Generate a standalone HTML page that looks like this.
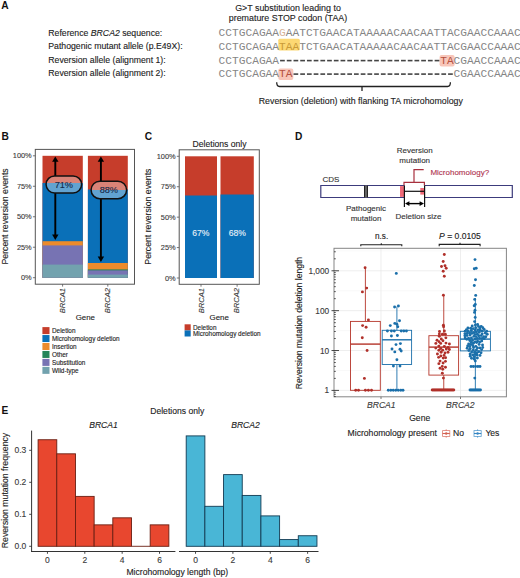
<!DOCTYPE html>
<html><head><meta charset="utf-8"><title>Figure</title>
<style>html,body{margin:0;padding:0;background:#fff;}body{width:520px;height:578px;overflow:hidden;font-family:"Liberation Sans", sans-serif;}svg{display:block;}</style>
</head><body>
<svg width="520" height="578" viewBox="0 0 520 578"><text x="1.30" y="8.75" font-size="10.2" text-anchor="start" fill="#111" font-weight="bold" font-family='"Liberation Sans", sans-serif'>A</text>
<text x="1.60" y="140.25" font-size="10.2" text-anchor="start" fill="#111" font-weight="bold" font-family='"Liberation Sans", sans-serif'>B</text>
<text x="144.80" y="140.25" font-size="10.2" text-anchor="start" fill="#111" font-weight="bold" font-family='"Liberation Sans", sans-serif'>C</text>
<text x="295.00" y="140.05" font-size="10.2" text-anchor="start" fill="#111" font-weight="bold" font-family='"Liberation Sans", sans-serif'>D</text>
<text x="1.40" y="413.85" font-size="10.2" text-anchor="start" fill="#111" font-weight="bold" font-family='"Liberation Sans", sans-serif'>E</text>
<text x="48.30" y="36.01" font-size="8.7" text-anchor="start" fill="#222" stroke="#222" stroke-width="0.12" font-family='"Liberation Sans", sans-serif'>Reference <tspan font-style="italic">BRCA2</tspan> sequence:</text>
<text x="48.30" y="49.31" font-size="8.7" text-anchor="start" fill="#222" stroke="#222" stroke-width="0.12" font-family='"Liberation Sans", sans-serif'>Pathogenic mutant allele (p.E49X):</text>
<text x="48.30" y="62.81" font-size="8.7" text-anchor="start" fill="#222" stroke="#222" stroke-width="0.12" font-family='"Liberation Sans", sans-serif'>Reversion allele (alignment 1):</text>
<text x="48.30" y="76.11" font-size="8.7" text-anchor="start" fill="#222" stroke="#222" stroke-width="0.12" font-family='"Liberation Sans", sans-serif'>Reversion allele (alignment 2):</text>
<text x="288.00" y="10.50" font-size="8.9" text-anchor="middle" fill="#222" stroke="#222" stroke-width="0.12" font-family='"Liberation Sans", sans-serif'>G&gt;T substitution leading to</text>
<text x="288.00" y="20.80" font-size="8.9" text-anchor="middle" fill="#222" stroke="#222" stroke-width="0.12" font-family='"Liberation Sans", sans-serif'>premature STOP codon (TAA)</text>
<rect x="278.28" y="38.80" width="21.56" height="11.80" fill="#fcd873" rx="1.5"/>
<rect x="439.56" y="54.90" width="15.04" height="11.70" fill="#f8c6b9" rx="2"/>
<rect x="278.28" y="68.60" width="15.04" height="11.50" fill="#f8c6b9" rx="2"/>
<text x="218.60" y="36.26" font-size="11.2" font-family='"Liberation Mono", monospace' xml:space="preserve"><tspan fill="#858585">CCTGCAGAA</tspan><tspan fill="#d6b296">G</tspan><tspan fill="#858585">AATCTGAACATAAAAACAACAATTACGAACCAAAC</tspan></text>
<text x="218.60" y="49.66" font-size="11.2" font-family='"Liberation Mono", monospace' xml:space="preserve"><tspan fill="#858585">CCTGCAGAA</tspan><tspan fill="#c99a38">TAA</tspan><tspan fill="#858585">TCTGAACATAAAAACAACAATTACGAACCAAAC</tspan></text>
<text x="218.60" y="63.66" font-size="11.2" font-family='"Liberation Mono", monospace' xml:space="preserve"><tspan fill="#858585">CCTGCAGAA</tspan><tspan fill="#858585">                        </tspan><tspan fill="#b5503f">TA</tspan><tspan fill="#858585">CGAACCAAAC</tspan></text>
<rect x="280.08" y="59.80" width="4.72" height="1.60" fill="#444"/>
<rect x="286.80" y="59.80" width="4.72" height="1.60" fill="#444"/>
<rect x="293.52" y="59.80" width="4.72" height="1.60" fill="#444"/>
<rect x="300.24" y="59.80" width="4.72" height="1.60" fill="#444"/>
<rect x="306.96" y="59.80" width="4.72" height="1.60" fill="#444"/>
<rect x="313.68" y="59.80" width="4.72" height="1.60" fill="#444"/>
<rect x="320.40" y="59.80" width="4.72" height="1.60" fill="#444"/>
<rect x="327.12" y="59.80" width="4.72" height="1.60" fill="#444"/>
<rect x="333.84" y="59.80" width="4.72" height="1.60" fill="#444"/>
<rect x="340.56" y="59.80" width="4.72" height="1.60" fill="#444"/>
<rect x="347.28" y="59.80" width="4.72" height="1.60" fill="#444"/>
<rect x="354.00" y="59.80" width="4.72" height="1.60" fill="#444"/>
<rect x="360.72" y="59.80" width="4.72" height="1.60" fill="#444"/>
<rect x="367.44" y="59.80" width="4.72" height="1.60" fill="#444"/>
<rect x="374.16" y="59.80" width="4.72" height="1.60" fill="#444"/>
<rect x="380.88" y="59.80" width="4.72" height="1.60" fill="#444"/>
<rect x="387.60" y="59.80" width="4.72" height="1.60" fill="#444"/>
<rect x="394.32" y="59.80" width="4.72" height="1.60" fill="#444"/>
<rect x="401.04" y="59.80" width="4.72" height="1.60" fill="#444"/>
<rect x="407.76" y="59.80" width="4.72" height="1.60" fill="#444"/>
<rect x="414.48" y="59.80" width="4.72" height="1.60" fill="#444"/>
<rect x="421.20" y="59.80" width="4.72" height="1.60" fill="#444"/>
<rect x="427.92" y="59.80" width="4.72" height="1.60" fill="#444"/>
<rect x="434.64" y="59.80" width="4.72" height="1.60" fill="#444"/>
<text x="218.60" y="76.86" font-size="11.2" font-family='"Liberation Mono", monospace' xml:space="preserve"><tspan fill="#858585">CCTGCAGAA</tspan><tspan fill="#b5503f">TA</tspan><tspan fill="#858585">                        </tspan><tspan fill="#858585">CGAACCAAAC</tspan></text>
<rect x="293.52" y="73.30" width="4.72" height="1.60" fill="#444"/>
<rect x="300.24" y="73.30" width="4.72" height="1.60" fill="#444"/>
<rect x="306.96" y="73.30" width="4.72" height="1.60" fill="#444"/>
<rect x="313.68" y="73.30" width="4.72" height="1.60" fill="#444"/>
<rect x="320.40" y="73.30" width="4.72" height="1.60" fill="#444"/>
<rect x="327.12" y="73.30" width="4.72" height="1.60" fill="#444"/>
<rect x="333.84" y="73.30" width="4.72" height="1.60" fill="#444"/>
<rect x="340.56" y="73.30" width="4.72" height="1.60" fill="#444"/>
<rect x="347.28" y="73.30" width="4.72" height="1.60" fill="#444"/>
<rect x="354.00" y="73.30" width="4.72" height="1.60" fill="#444"/>
<rect x="360.72" y="73.30" width="4.72" height="1.60" fill="#444"/>
<rect x="367.44" y="73.30" width="4.72" height="1.60" fill="#444"/>
<rect x="374.16" y="73.30" width="4.72" height="1.60" fill="#444"/>
<rect x="380.88" y="73.30" width="4.72" height="1.60" fill="#444"/>
<rect x="387.60" y="73.30" width="4.72" height="1.60" fill="#444"/>
<rect x="394.32" y="73.30" width="4.72" height="1.60" fill="#444"/>
<rect x="401.04" y="73.30" width="4.72" height="1.60" fill="#444"/>
<rect x="407.76" y="73.30" width="4.72" height="1.60" fill="#444"/>
<rect x="414.48" y="73.30" width="4.72" height="1.60" fill="#444"/>
<rect x="421.20" y="73.30" width="4.72" height="1.60" fill="#444"/>
<rect x="427.92" y="73.30" width="4.72" height="1.60" fill="#444"/>
<rect x="434.64" y="73.30" width="4.72" height="1.60" fill="#444"/>
<rect x="441.36" y="73.30" width="4.72" height="1.60" fill="#444"/>
<rect x="448.08" y="73.30" width="4.72" height="1.60" fill="#444"/>
<path d="M276.7 82.3 Q276.7 86.5 279.5 86.5 L447.6 86.5 Q450.4 86.5 450.4 82.3 M362 86.5 L362 91" fill="none" stroke="#222" stroke-width="1.3"/>
<text x="360.80" y="104.00" font-size="8.8" text-anchor="middle" fill="#222" stroke="#222" stroke-width="0.12" font-family='"Liberation Sans", sans-serif'>Reversion (deletion) with flanking TA microhomology</text>
<rect x="35.30" y="149.40" width="99.20" height="134.80" fill="none" stroke="#555" stroke-width="1.0"/>
<line x1="32.90" y1="155.80" x2="35.30" y2="155.80" stroke="#555" stroke-width="0.8"/>
<text x="31.70" y="158.45" font-size="7.4" text-anchor="end" fill="#3a3a3a" stroke="#3a3a3a" stroke-width="0.12" font-family='"Liberation Sans", sans-serif'>100%</text>
<line x1="32.90" y1="186.28" x2="35.30" y2="186.28" stroke="#555" stroke-width="0.8"/>
<text x="31.70" y="188.92" font-size="7.4" text-anchor="end" fill="#3a3a3a" stroke="#3a3a3a" stroke-width="0.12" font-family='"Liberation Sans", sans-serif'>75%</text>
<line x1="32.90" y1="216.75" x2="35.30" y2="216.75" stroke="#555" stroke-width="0.8"/>
<text x="31.70" y="219.40" font-size="7.4" text-anchor="end" fill="#3a3a3a" stroke="#3a3a3a" stroke-width="0.12" font-family='"Liberation Sans", sans-serif'>50%</text>
<line x1="32.90" y1="247.22" x2="35.30" y2="247.22" stroke="#555" stroke-width="0.8"/>
<text x="31.70" y="249.87" font-size="7.4" text-anchor="end" fill="#3a3a3a" stroke="#3a3a3a" stroke-width="0.12" font-family='"Liberation Sans", sans-serif'>25%</text>
<line x1="32.90" y1="277.70" x2="35.30" y2="277.70" stroke="#555" stroke-width="0.8"/>
<text x="31.70" y="280.35" font-size="7.4" text-anchor="end" fill="#3a3a3a" stroke="#3a3a3a" stroke-width="0.12" font-family='"Liberation Sans", sans-serif'>0%</text>
<line x1="62.60" y1="284.20" x2="62.60" y2="286.60" stroke="#555" stroke-width="0.8"/>
<line x1="107.80" y1="284.20" x2="107.80" y2="286.60" stroke="#555" stroke-width="0.8"/>
<text x="7.70" y="216.40" font-size="8.7" text-anchor="middle" fill="#222" stroke="#222" stroke-width="0.12" transform="rotate(-90 7.7 216.4)" font-family='"Liberation Sans", sans-serif'>Percent reversion events</text>
<text x="62.80" y="288.00" font-size="7.6" text-anchor="end" fill="#3a3a3a" stroke="#3a3a3a" stroke-width="0.12" font-style="italic" transform="rotate(-90 62.8 288.0)" font-family='"Liberation Sans", sans-serif' dominant-baseline="central">BRCA1</text>
<text x="107.60" y="288.00" font-size="7.6" text-anchor="end" fill="#3a3a3a" stroke="#3a3a3a" stroke-width="0.12" font-style="italic" transform="rotate(-90 107.6 288.0)" font-family='"Liberation Sans", sans-serif' dominant-baseline="central">BRCA2</text>
<text x="85.30" y="319.53" font-size="7.9" text-anchor="middle" fill="#222" stroke="#222" stroke-width="0.12" font-family='"Liberation Sans", sans-serif'>Gene</text>
<rect x="42.50" y="155.80" width="40.30" height="121.90" fill="#c63d2b"/>
<rect x="42.50" y="183.00" width="40.30" height="94.70" fill="#0a70b8"/>
<rect x="42.50" y="241.20" width="40.30" height="36.50" fill="#ec8b2c"/>
<rect x="42.50" y="245.40" width="40.30" height="32.30" fill="#7773b3"/>
<rect x="42.50" y="264.60" width="40.30" height="13.10" fill="#72a2ae"/>
<rect x="87.90" y="155.80" width="39.90" height="121.90" fill="#c63d2b"/>
<rect x="87.90" y="189.50" width="39.90" height="88.20" fill="#0a70b8"/>
<rect x="87.90" y="263.00" width="39.90" height="14.70" fill="#ec8b2c"/>
<rect x="87.90" y="269.40" width="39.90" height="8.30" fill="#24855a"/>
<rect x="87.90" y="270.40" width="39.90" height="7.30" fill="#7773b3"/>
<rect x="87.90" y="274.60" width="39.90" height="3.10" fill="#72a2ae"/>
<line x1="55.30" y1="160.40" x2="55.30" y2="236.00" stroke="#000" stroke-width="1.9"/>
<path d="M52.10 161.80 L55.30 156.40 L58.50 161.80 Z" fill="#000"/>
<path d="M52.10 234.60 L55.30 240.00 L58.50 234.60 Z" fill="#000"/>
<line x1="100.90" y1="160.40" x2="100.90" y2="258.00" stroke="#000" stroke-width="1.9"/>
<path d="M97.70 161.80 L100.90 156.40 L104.10 161.80 Z" fill="#000"/>
<path d="M97.70 256.60 L100.90 262.00 L104.10 256.60 Z" fill="#000"/>
<defs><linearGradient id="g71" x1="0" y1="0" x2="0" y2="1"><stop offset="0.4176" stop-color="#c63d2b"/><stop offset="0.4176" stop-color="#0a70b8"/></linearGradient></defs>
<defs><linearGradient id="g88" x1="0" y1="0" x2="0" y2="1"><stop offset="0.4743" stop-color="#c63d2b"/><stop offset="0.4743" stop-color="#0a70b8"/></linearGradient></defs>
<rect x="46.10" y="175.90" width="35.50" height="17.00" rx="8.50" fill="url(#g71)" stroke="none"/>
<rect x="46.10" y="175.90" width="35.50" height="17.00" rx="8.50" fill="#ffffff" fill-opacity="0.36" stroke="#111" stroke-width="1.5"/>
<text x="63.85" y="187.62" font-size="9.2" text-anchor="middle" fill="#142848" stroke="#142848" stroke-width="0.12" font-family='"Liberation Sans", sans-serif'>71%</text>
<rect x="91.10" y="181.20" width="35.50" height="17.50" rx="8.75" fill="url(#g88)" stroke="none"/>
<rect x="91.10" y="181.20" width="35.50" height="17.50" rx="8.75" fill="#ffffff" fill-opacity="0.36" stroke="#111" stroke-width="1.5"/>
<text x="108.85" y="193.17" font-size="9.2" text-anchor="middle" fill="#142848" stroke="#142848" stroke-width="0.12" font-family='"Liberation Sans", sans-serif'>88%</text>
<rect x="42.40" y="327.10" width="7.10" height="7.00" fill="#c63d2b"/>
<text x="52.00" y="332.89" font-size="6.4" text-anchor="start" fill="#222" stroke="#222" stroke-width="0.12" font-family='"Liberation Sans", sans-serif'>Deletion</text>
<rect x="42.40" y="335.05" width="7.10" height="7.00" fill="#0a70b8"/>
<text x="52.00" y="340.84" font-size="6.4" text-anchor="start" fill="#222" stroke="#222" stroke-width="0.12" font-family='"Liberation Sans", sans-serif'>Microhomology deletion</text>
<rect x="42.40" y="343.00" width="7.10" height="7.00" fill="#ec8b2c"/>
<text x="52.00" y="348.79" font-size="6.4" text-anchor="start" fill="#222" stroke="#222" stroke-width="0.12" font-family='"Liberation Sans", sans-serif'>Insertion</text>
<rect x="42.40" y="350.95" width="7.10" height="7.00" fill="#24855a"/>
<text x="52.00" y="356.74" font-size="6.4" text-anchor="start" fill="#222" stroke="#222" stroke-width="0.12" font-family='"Liberation Sans", sans-serif'>Other</text>
<rect x="42.40" y="358.90" width="7.10" height="7.00" fill="#7773b3"/>
<text x="52.00" y="364.69" font-size="6.4" text-anchor="start" fill="#222" stroke="#222" stroke-width="0.12" font-family='"Liberation Sans", sans-serif'>Substitution</text>
<rect x="42.40" y="366.85" width="7.10" height="7.00" fill="#72a2ae"/>
<text x="52.00" y="372.64" font-size="6.4" text-anchor="start" fill="#222" stroke="#222" stroke-width="0.12" font-family='"Liberation Sans", sans-serif'>Wild-type</text>
<text x="219.60" y="147.38" font-size="8.6" text-anchor="middle" fill="#222" stroke="#222" stroke-width="0.12" font-family='"Liberation Sans", sans-serif'>Deletions only</text>
<rect x="179.20" y="149.80" width="80.10" height="134.50" fill="none" stroke="#555" stroke-width="1.0"/>
<line x1="176.80" y1="156.30" x2="179.20" y2="156.30" stroke="#555" stroke-width="0.8"/>
<text x="175.60" y="158.95" font-size="7.4" text-anchor="end" fill="#3a3a3a" stroke="#3a3a3a" stroke-width="0.12" font-family='"Liberation Sans", sans-serif'>100%</text>
<line x1="176.80" y1="186.72" x2="179.20" y2="186.72" stroke="#555" stroke-width="0.8"/>
<text x="175.60" y="189.37" font-size="7.4" text-anchor="end" fill="#3a3a3a" stroke="#3a3a3a" stroke-width="0.12" font-family='"Liberation Sans", sans-serif'>75%</text>
<line x1="176.80" y1="217.15" x2="179.20" y2="217.15" stroke="#555" stroke-width="0.8"/>
<text x="175.60" y="219.80" font-size="7.4" text-anchor="end" fill="#3a3a3a" stroke="#3a3a3a" stroke-width="0.12" font-family='"Liberation Sans", sans-serif'>50%</text>
<line x1="176.80" y1="247.57" x2="179.20" y2="247.57" stroke="#555" stroke-width="0.8"/>
<text x="175.60" y="250.22" font-size="7.4" text-anchor="end" fill="#3a3a3a" stroke="#3a3a3a" stroke-width="0.12" font-family='"Liberation Sans", sans-serif'>25%</text>
<line x1="176.80" y1="278.00" x2="179.20" y2="278.00" stroke="#555" stroke-width="0.8"/>
<text x="175.60" y="280.65" font-size="7.4" text-anchor="end" fill="#3a3a3a" stroke="#3a3a3a" stroke-width="0.12" font-family='"Liberation Sans", sans-serif'>0%</text>
<line x1="201.00" y1="284.30" x2="201.00" y2="286.70" stroke="#555" stroke-width="0.8"/>
<line x1="237.10" y1="284.30" x2="237.10" y2="286.70" stroke="#555" stroke-width="0.8"/>
<text x="151.20" y="216.60" font-size="8.7" text-anchor="middle" fill="#222" stroke="#222" stroke-width="0.12" transform="rotate(-90 151.2 216.6)" font-family='"Liberation Sans", sans-serif'>Percent reversion events</text>
<text x="201.20" y="288.00" font-size="7.6" text-anchor="end" fill="#3a3a3a" stroke="#3a3a3a" stroke-width="0.12" font-style="italic" transform="rotate(-90 201.2 288.0)" font-family='"Liberation Sans", sans-serif' dominant-baseline="central">BRCA1</text>
<text x="236.90" y="288.00" font-size="7.6" text-anchor="end" fill="#3a3a3a" stroke="#3a3a3a" stroke-width="0.12" font-style="italic" transform="rotate(-90 236.9 288.0)" font-family='"Liberation Sans", sans-serif' dominant-baseline="central">BRCA2</text>
<text x="219.20" y="319.53" font-size="7.9" text-anchor="middle" fill="#222" stroke="#222" stroke-width="0.12" font-family='"Liberation Sans", sans-serif'>Gene</text>
<rect x="185.00" y="156.30" width="32.00" height="121.70" fill="#c63d2b"/>
<rect x="185.00" y="195.50" width="32.00" height="82.50" fill="#0a70b8"/>
<rect x="220.50" y="156.30" width="33.30" height="121.70" fill="#c63d2b"/>
<rect x="220.50" y="194.50" width="33.30" height="83.50" fill="#0a70b8"/>
<text x="200.90" y="236.08" font-size="8.6" text-anchor="middle" fill="#e8f0f8" stroke="#e8f0f8" stroke-width="0.12" font-family='"Liberation Sans", sans-serif'>67%</text>
<text x="237.30" y="236.08" font-size="8.6" text-anchor="middle" fill="#e8f0f8" stroke="#e8f0f8" stroke-width="0.12" font-family='"Liberation Sans", sans-serif'>68%</text>
<rect x="184.60" y="324.30" width="6.10" height="6.10" fill="#c63d2b"/>
<text x="193.00" y="329.64" font-size="6.4" text-anchor="start" fill="#222" stroke="#222" stroke-width="0.12" font-family='"Liberation Sans", sans-serif'>Deletion</text>
<rect x="184.60" y="330.40" width="6.10" height="6.10" fill="#0a70b8"/>
<text x="193.00" y="335.74" font-size="6.4" text-anchor="start" fill="#222" stroke="#222" stroke-width="0.12" font-family='"Liberation Sans", sans-serif'>Microhomology deletion</text>
<text x="322.40" y="182.16" font-size="8.0" text-anchor="start" fill="#333" stroke="#333" stroke-width="0.12" font-family='"Liberation Sans", sans-serif'>CDS</text>
<path d="M404.4 185.5 L320.8 185.5 L320.8 197.5 L404.4 197.5 M424.6 185.5 L512.3 185.5 L512.3 197.5 L424.6 197.5" fill="none" stroke="#3c3b7c" stroke-width="1.2"/>
<rect x="364.10" y="185.50" width="3.80" height="12.00" fill="#6a6a6a"/>
<line x1="364.60" y1="185.50" x2="364.60" y2="197.50" stroke="#1a1a1a" stroke-width="1.0"/>
<line x1="367.40" y1="185.50" x2="367.40" y2="197.50" stroke="#1a1a1a" stroke-width="1.0"/>
<rect x="400.00" y="186.10" width="4.00" height="10.80" fill="#f06a78"/>
<rect x="420.30" y="188.00" width="3.80" height="6.60" fill="#f06a78"/>
<path d="M404.0 185.5 L404.0 182.3 L424.4 182.3 L424.4 185.5 M414.0 182.3 L414.0 169.6 L423.7 169.6" fill="none" stroke="#a8303e" stroke-width="1.2"/>
<line x1="404.40" y1="185.50" x2="404.40" y2="207.00" stroke="#111" stroke-width="1.2"/>
<line x1="424.60" y1="185.50" x2="424.60" y2="207.00" stroke="#111" stroke-width="1.2"/>
<line x1="404.40" y1="191.30" x2="424.60" y2="191.30" stroke="#111" stroke-width="1.2"/>
<line x1="407.50" y1="203.60" x2="421.50" y2="203.60" stroke="#000" stroke-width="1.4"/>
<path d="M405.0 203.6 L409.4 201.3 L409.4 205.9 Z M424.0 203.6 L419.6 201.3 L419.6 205.9 Z" fill="#000"/>
<text x="414.70" y="153.30" font-size="8.0" text-anchor="middle" fill="#333" stroke="#333" stroke-width="0.12" font-family='"Liberation Sans", sans-serif'>Reversion</text>
<text x="414.70" y="162.50" font-size="8.0" text-anchor="middle" fill="#333" stroke="#333" stroke-width="0.12" font-family='"Liberation Sans", sans-serif'>mutation</text>
<text x="430.40" y="175.16" font-size="8.0" text-anchor="start" fill="#b03450" stroke="#b03450" stroke-width="0.12" font-family='"Liberation Sans", sans-serif'>Microhomology?</text>
<text x="366.00" y="210.86" font-size="8.0" text-anchor="middle" fill="#333" stroke="#333" stroke-width="0.12" font-family='"Liberation Sans", sans-serif'>Pathogenic</text>
<text x="366.00" y="220.56" font-size="8.0" text-anchor="middle" fill="#333" stroke="#333" stroke-width="0.12" font-family='"Liberation Sans", sans-serif'>mutation</text>
<text x="395.60" y="219.36" font-size="8.0" text-anchor="start" fill="#333" stroke="#333" stroke-width="0.12" font-family='"Liberation Sans", sans-serif'>Deletion size</text>
<line x1="334.00" y1="390.40" x2="506.40" y2="390.40" stroke="#e6e6e6" stroke-width="0.7"/>
<line x1="334.00" y1="350.53" x2="506.40" y2="350.53" stroke="#e6e6e6" stroke-width="0.7"/>
<line x1="334.00" y1="310.66" x2="506.40" y2="310.66" stroke="#e6e6e6" stroke-width="0.7"/>
<line x1="334.00" y1="270.79" x2="506.40" y2="270.79" stroke="#e6e6e6" stroke-width="0.7"/>
<line x1="334.00" y1="370.46" x2="506.40" y2="370.46" stroke="#f2f2f2" stroke-width="0.5"/>
<line x1="334.00" y1="330.59" x2="506.40" y2="330.59" stroke="#f2f2f2" stroke-width="0.5"/>
<line x1="334.00" y1="290.72" x2="506.40" y2="290.72" stroke="#f2f2f2" stroke-width="0.5"/>
<line x1="334.00" y1="250.85" x2="506.40" y2="250.85" stroke="#f2f2f2" stroke-width="0.5"/>
<line x1="381.00" y1="248.30" x2="381.00" y2="396.80" stroke="#e6e6e6" stroke-width="0.7"/>
<line x1="460.50" y1="248.30" x2="460.50" y2="396.80" stroke="#e6e6e6" stroke-width="0.7"/>
<line x1="365.40" y1="267.70" x2="365.40" y2="321.40" stroke="#b5352a" stroke-width="0.9"/>
<line x1="365.40" y1="390.30" x2="365.40" y2="390.40" stroke="#b5352a" stroke-width="0.9"/>
<rect x="350.50" y="321.40" width="29.80" height="68.90" fill="#fff" stroke="#b5352a" stroke-width="0.9" fill-opacity="0"/>
<line x1="350.50" y1="344.10" x2="380.30" y2="344.10" stroke="#b5352a" stroke-width="1.4"/>
<line x1="396.90" y1="306.50" x2="396.90" y2="330.30" stroke="#1a6faa" stroke-width="0.9"/>
<line x1="396.90" y1="364.50" x2="396.90" y2="390.40" stroke="#1a6faa" stroke-width="0.9"/>
<rect x="382.20" y="330.30" width="29.40" height="34.20" fill="#fff" stroke="#1a6faa" stroke-width="0.9" fill-opacity="0"/>
<line x1="382.20" y1="339.80" x2="411.60" y2="339.80" stroke="#1a6faa" stroke-width="1.4"/>
<line x1="443.75" y1="295.30" x2="443.75" y2="335.70" stroke="#b5352a" stroke-width="0.9"/>
<line x1="443.75" y1="375.10" x2="443.75" y2="390.40" stroke="#b5352a" stroke-width="0.9"/>
<rect x="428.90" y="335.70" width="29.70" height="39.40" fill="#fff" stroke="#b5352a" stroke-width="0.9" fill-opacity="0"/>
<line x1="428.90" y1="347.10" x2="458.60" y2="347.10" stroke="#b5352a" stroke-width="1.4"/>
<line x1="475.35" y1="298.00" x2="475.35" y2="331.30" stroke="#1a6faa" stroke-width="0.9"/>
<line x1="475.35" y1="350.90" x2="475.35" y2="390.40" stroke="#1a6faa" stroke-width="0.9"/>
<rect x="460.30" y="331.30" width="30.10" height="19.60" fill="#fff" stroke="#1a6faa" stroke-width="0.9" fill-opacity="0"/>
<line x1="460.30" y1="339.10" x2="490.40" y2="339.10" stroke="#1a6faa" stroke-width="1.4"/>
<circle cx="365.10" cy="267.70" r="1.45" fill="#b0302a"/>
<circle cx="366.70" cy="288.10" r="1.45" fill="#b0302a"/>
<circle cx="362.40" cy="291.90" r="1.45" fill="#b0302a"/>
<circle cx="368.40" cy="319.90" r="1.45" fill="#b0302a"/>
<circle cx="362.60" cy="325.60" r="1.45" fill="#b0302a"/>
<circle cx="366.10" cy="327.20" r="1.45" fill="#b0302a"/>
<circle cx="362.30" cy="337.70" r="1.45" fill="#b0302a"/>
<circle cx="367.10" cy="350.50" r="1.45" fill="#b0302a"/>
<circle cx="364.40" cy="378.40" r="1.45" fill="#b0302a"/>
<circle cx="355.70" cy="390.30" r="1.45" fill="#b0302a"/>
<circle cx="358.50" cy="390.30" r="1.45" fill="#b0302a"/>
<circle cx="365.40" cy="390.30" r="1.45" fill="#b0302a"/>
<circle cx="368.40" cy="390.30" r="1.45" fill="#b0302a"/>
<circle cx="371.50" cy="390.30" r="1.45" fill="#b0302a"/>
<circle cx="444.30" cy="254.50" r="1.45" fill="#b0302a"/>
<circle cx="443.20" cy="261.50" r="1.45" fill="#b0302a"/>
<circle cx="441.50" cy="266.50" r="1.45" fill="#b0302a"/>
<circle cx="445.00" cy="265.80" r="1.45" fill="#b0302a"/>
<circle cx="446.20" cy="268.20" r="1.45" fill="#b0302a"/>
<circle cx="443.20" cy="271.20" r="1.45" fill="#b0302a"/>
<circle cx="444.30" cy="276.20" r="1.45" fill="#b0302a"/>
<circle cx="443.40" cy="295.30" r="1.45" fill="#b0302a"/>
<circle cx="443.40" cy="325.20" r="1.45" fill="#b0302a"/>
<circle cx="443.40" cy="378.10" r="1.45" fill="#b0302a"/>
<circle cx="432.20" cy="390.00" r="1.45" fill="#b0302a"/>
<circle cx="433.34" cy="390.00" r="1.45" fill="#b0302a"/>
<circle cx="434.47" cy="390.00" r="1.45" fill="#b0302a"/>
<circle cx="435.61" cy="390.00" r="1.45" fill="#b0302a"/>
<circle cx="436.75" cy="390.00" r="1.45" fill="#b0302a"/>
<circle cx="437.88" cy="390.00" r="1.45" fill="#b0302a"/>
<circle cx="439.02" cy="390.00" r="1.45" fill="#b0302a"/>
<circle cx="440.16" cy="390.00" r="1.45" fill="#b0302a"/>
<circle cx="441.29" cy="390.00" r="1.45" fill="#b0302a"/>
<circle cx="442.43" cy="390.00" r="1.45" fill="#b0302a"/>
<circle cx="443.57" cy="390.00" r="1.45" fill="#b0302a"/>
<circle cx="444.71" cy="390.00" r="1.45" fill="#b0302a"/>
<circle cx="445.84" cy="390.00" r="1.45" fill="#b0302a"/>
<circle cx="446.98" cy="390.00" r="1.45" fill="#b0302a"/>
<circle cx="448.12" cy="390.00" r="1.45" fill="#b0302a"/>
<circle cx="449.25" cy="390.00" r="1.45" fill="#b0302a"/>
<circle cx="450.39" cy="390.00" r="1.45" fill="#b0302a"/>
<circle cx="451.53" cy="390.00" r="1.45" fill="#b0302a"/>
<circle cx="452.66" cy="390.00" r="1.45" fill="#b0302a"/>
<circle cx="453.80" cy="390.00" r="1.45" fill="#b0302a"/>
<circle cx="443.60" cy="326.80" r="1.45" fill="#b0302a"/>
<circle cx="442.95" cy="340.71" r="1.45" fill="#b0302a"/>
<circle cx="444.37" cy="346.37" r="1.45" fill="#b0302a"/>
<circle cx="438.59" cy="357.34" r="1.45" fill="#b0302a"/>
<circle cx="444.39" cy="331.06" r="1.45" fill="#b0302a"/>
<circle cx="439.02" cy="341.63" r="1.45" fill="#b0302a"/>
<circle cx="442.34" cy="373.21" r="1.45" fill="#b0302a"/>
<circle cx="442.25" cy="366.38" r="1.45" fill="#b0302a"/>
<circle cx="445.61" cy="357.74" r="1.45" fill="#b0302a"/>
<circle cx="445.01" cy="352.94" r="1.45" fill="#b0302a"/>
<circle cx="443.10" cy="363.03" r="1.45" fill="#b0302a"/>
<circle cx="435.83" cy="343.42" r="1.45" fill="#b0302a"/>
<circle cx="445.47" cy="361.34" r="1.45" fill="#b0302a"/>
<circle cx="448.12" cy="347.44" r="1.45" fill="#b0302a"/>
<circle cx="449.37" cy="349.57" r="1.45" fill="#b0302a"/>
<circle cx="440.05" cy="368.20" r="1.45" fill="#b0302a"/>
<circle cx="439.29" cy="336.33" r="1.45" fill="#b0302a"/>
<circle cx="441.12" cy="352.26" r="1.45" fill="#b0302a"/>
<circle cx="445.47" cy="367.24" r="1.45" fill="#b0302a"/>
<circle cx="442.75" cy="369.31" r="1.45" fill="#b0302a"/>
<circle cx="440.05" cy="361.12" r="1.45" fill="#b0302a"/>
<circle cx="445.34" cy="334.30" r="1.45" fill="#b0302a"/>
<circle cx="435.76" cy="348.11" r="1.45" fill="#b0302a"/>
<circle cx="445.96" cy="343.11" r="1.45" fill="#b0302a"/>
<circle cx="448.03" cy="352.18" r="1.45" fill="#b0302a"/>
<circle cx="441.28" cy="338.97" r="1.45" fill="#b0302a"/>
<circle cx="449.42" cy="343.96" r="1.45" fill="#b0302a"/>
<circle cx="442.68" cy="350.25" r="1.45" fill="#b0302a"/>
<circle cx="443.23" cy="358.12" r="1.45" fill="#b0302a"/>
<circle cx="446.28" cy="349.00" r="1.45" fill="#b0302a"/>
<circle cx="437.42" cy="354.03" r="1.45" fill="#b0302a"/>
<circle cx="439.53" cy="331.45" r="1.45" fill="#b0302a"/>
<circle cx="440.77" cy="355.93" r="1.45" fill="#b0302a"/>
<circle cx="438.84" cy="346.11" r="1.45" fill="#b0302a"/>
<circle cx="440.69" cy="343.39" r="1.45" fill="#b0302a"/>
<circle cx="438.87" cy="363.63" r="1.45" fill="#b0302a"/>
<circle cx="440.68" cy="348.51" r="1.45" fill="#b0302a"/>
<circle cx="437.02" cy="340.26" r="1.45" fill="#b0302a"/>
<circle cx="445.87" cy="337.85" r="1.45" fill="#b0302a"/>
<circle cx="442.42" cy="334.19" r="1.45" fill="#b0302a"/>
<circle cx="439.33" cy="333.93" r="1.45" fill="#b0302a"/>
<circle cx="438.82" cy="350.27" r="1.45" fill="#b0302a"/>
<circle cx="444.04" cy="355.39" r="1.45" fill="#b0302a"/>
<circle cx="396.30" cy="273.40" r="1.45" fill="#1a6faa"/>
<circle cx="394.60" cy="307.00" r="1.45" fill="#1a6faa"/>
<circle cx="398.40" cy="306.00" r="1.45" fill="#1a6faa"/>
<circle cx="399.50" cy="320.80" r="1.45" fill="#1a6faa"/>
<circle cx="394.80" cy="323.40" r="1.45" fill="#1a6faa"/>
<circle cx="396.90" cy="324.20" r="1.45" fill="#1a6faa"/>
<circle cx="390.30" cy="325.60" r="1.45" fill="#1a6faa"/>
<circle cx="397.80" cy="326.80" r="1.45" fill="#1a6faa"/>
<circle cx="387.40" cy="331.00" r="1.45" fill="#1a6faa"/>
<circle cx="391.40" cy="331.00" r="1.45" fill="#1a6faa"/>
<circle cx="394.30" cy="331.00" r="1.45" fill="#1a6faa"/>
<circle cx="401.20" cy="331.00" r="1.45" fill="#1a6faa"/>
<circle cx="403.80" cy="331.00" r="1.45" fill="#1a6faa"/>
<circle cx="406.40" cy="331.00" r="1.45" fill="#1a6faa"/>
<circle cx="391.40" cy="336.00" r="1.45" fill="#1a6faa"/>
<circle cx="397.40" cy="335.50" r="1.45" fill="#1a6faa"/>
<circle cx="396.00" cy="344.60" r="1.45" fill="#1a6faa"/>
<circle cx="400.40" cy="343.60" r="1.45" fill="#1a6faa"/>
<circle cx="392.00" cy="349.00" r="1.45" fill="#1a6faa"/>
<circle cx="400.00" cy="349.30" r="1.45" fill="#1a6faa"/>
<circle cx="401.20" cy="351.00" r="1.45" fill="#1a6faa"/>
<circle cx="394.80" cy="351.90" r="1.45" fill="#1a6faa"/>
<circle cx="396.90" cy="359.70" r="1.45" fill="#1a6faa"/>
<circle cx="393.40" cy="366.10" r="1.45" fill="#1a6faa"/>
<circle cx="400.00" cy="366.10" r="1.45" fill="#1a6faa"/>
<circle cx="388.30" cy="390.30" r="1.45" fill="#1a6faa"/>
<circle cx="390.80" cy="390.30" r="1.45" fill="#1a6faa"/>
<circle cx="393.30" cy="390.30" r="1.45" fill="#1a6faa"/>
<circle cx="395.80" cy="390.30" r="1.45" fill="#1a6faa"/>
<circle cx="398.30" cy="390.30" r="1.45" fill="#1a6faa"/>
<circle cx="400.80" cy="390.30" r="1.45" fill="#1a6faa"/>
<circle cx="403.00" cy="390.30" r="1.45" fill="#1a6faa"/>
<circle cx="475.00" cy="259.60" r="1.45" fill="#1a6faa"/>
<circle cx="476.20" cy="268.20" r="1.45" fill="#1a6faa"/>
<circle cx="474.30" cy="268.80" r="1.45" fill="#1a6faa"/>
<circle cx="475.50" cy="279.70" r="1.45" fill="#1a6faa"/>
<circle cx="474.30" cy="285.50" r="1.45" fill="#1a6faa"/>
<circle cx="475.70" cy="295.40" r="1.45" fill="#1a6faa"/>
<circle cx="474.80" cy="378.10" r="1.45" fill="#1a6faa"/>
<circle cx="471.00" cy="366.50" r="1.45" fill="#1a6faa"/>
<circle cx="473.30" cy="366.50" r="1.45" fill="#1a6faa"/>
<circle cx="475.60" cy="366.50" r="1.45" fill="#1a6faa"/>
<circle cx="477.90" cy="366.50" r="1.45" fill="#1a6faa"/>
<circle cx="480.00" cy="366.50" r="1.45" fill="#1a6faa"/>
<circle cx="470.00" cy="390.00" r="1.45" fill="#1a6faa"/>
<circle cx="471.17" cy="390.00" r="1.45" fill="#1a6faa"/>
<circle cx="472.33" cy="390.00" r="1.45" fill="#1a6faa"/>
<circle cx="473.50" cy="390.00" r="1.45" fill="#1a6faa"/>
<circle cx="474.67" cy="390.00" r="1.45" fill="#1a6faa"/>
<circle cx="475.83" cy="390.00" r="1.45" fill="#1a6faa"/>
<circle cx="477.00" cy="390.00" r="1.45" fill="#1a6faa"/>
<circle cx="478.17" cy="390.00" r="1.45" fill="#1a6faa"/>
<circle cx="479.33" cy="390.00" r="1.45" fill="#1a6faa"/>
<circle cx="480.50" cy="390.00" r="1.45" fill="#1a6faa"/>
<circle cx="474.70" cy="299.40" r="1.45" fill="#1a6faa"/>
<circle cx="475.30" cy="304.40" r="1.45" fill="#1a6faa"/>
<circle cx="474.20" cy="305.80" r="1.45" fill="#1a6faa"/>
<circle cx="475.00" cy="310.20" r="1.45" fill="#1a6faa"/>
<circle cx="474.50" cy="312.40" r="1.45" fill="#1a6faa"/>
<circle cx="475.20" cy="317.40" r="1.45" fill="#1a6faa"/>
<circle cx="474.60" cy="321.60" r="1.45" fill="#1a6faa"/>
<circle cx="481.11" cy="335.59" r="1.45" fill="#1a6faa"/>
<circle cx="484.22" cy="338.65" r="1.45" fill="#1a6faa"/>
<circle cx="475.39" cy="325.02" r="1.45" fill="#1a6faa"/>
<circle cx="477.55" cy="341.29" r="1.45" fill="#1a6faa"/>
<circle cx="469.77" cy="340.54" r="1.45" fill="#1a6faa"/>
<circle cx="469.66" cy="332.85" r="1.45" fill="#1a6faa"/>
<circle cx="477.36" cy="334.18" r="1.45" fill="#1a6faa"/>
<circle cx="484.18" cy="329.47" r="1.45" fill="#1a6faa"/>
<circle cx="468.55" cy="338.13" r="1.45" fill="#1a6faa"/>
<circle cx="467.06" cy="335.49" r="1.45" fill="#1a6faa"/>
<circle cx="470.68" cy="328.23" r="1.45" fill="#1a6faa"/>
<circle cx="479.68" cy="341.99" r="1.45" fill="#1a6faa"/>
<circle cx="485.82" cy="336.79" r="1.45" fill="#1a6faa"/>
<circle cx="472.51" cy="340.41" r="1.45" fill="#1a6faa"/>
<circle cx="468.10" cy="330.93" r="1.45" fill="#1a6faa"/>
<circle cx="477.83" cy="329.86" r="1.45" fill="#1a6faa"/>
<circle cx="471.37" cy="330.51" r="1.45" fill="#1a6faa"/>
<circle cx="475.24" cy="339.07" r="1.45" fill="#1a6faa"/>
<circle cx="475.19" cy="330.12" r="1.45" fill="#1a6faa"/>
<circle cx="482.85" cy="327.72" r="1.45" fill="#1a6faa"/>
<circle cx="479.86" cy="328.00" r="1.45" fill="#1a6faa"/>
<circle cx="481.72" cy="341.05" r="1.45" fill="#1a6faa"/>
<circle cx="482.19" cy="333.84" r="1.45" fill="#1a6faa"/>
<circle cx="478.50" cy="326.42" r="1.45" fill="#1a6faa"/>
<circle cx="472.24" cy="325.89" r="1.45" fill="#1a6faa"/>
<circle cx="473.78" cy="332.61" r="1.45" fill="#1a6faa"/>
<circle cx="475.07" cy="341.87" r="1.45" fill="#1a6faa"/>
<circle cx="486.64" cy="331.21" r="1.45" fill="#1a6faa"/>
<circle cx="471.77" cy="333.39" r="1.45" fill="#1a6faa"/>
<circle cx="482.03" cy="330.93" r="1.45" fill="#1a6faa"/>
<circle cx="479.55" cy="338.29" r="1.45" fill="#1a6faa"/>
<circle cx="477.22" cy="338.39" r="1.45" fill="#1a6faa"/>
<circle cx="473.84" cy="336.35" r="1.45" fill="#1a6faa"/>
<circle cx="479.08" cy="332.35" r="1.45" fill="#1a6faa"/>
<circle cx="467.93" cy="327.94" r="1.45" fill="#1a6faa"/>
<circle cx="465.13" cy="331.16" r="1.45" fill="#1a6faa"/>
<circle cx="470.03" cy="335.11" r="1.45" fill="#1a6faa"/>
<circle cx="482.15" cy="338.41" r="1.45" fill="#1a6faa"/>
<circle cx="471.43" cy="338.04" r="1.45" fill="#1a6faa"/>
<circle cx="485.29" cy="333.08" r="1.45" fill="#1a6faa"/>
<circle cx="473.22" cy="328.67" r="1.45" fill="#1a6faa"/>
<circle cx="465.15" cy="338.03" r="1.45" fill="#1a6faa"/>
<circle cx="487.25" cy="334.26" r="1.45" fill="#1a6faa"/>
<circle cx="475.74" cy="327.69" r="1.45" fill="#1a6faa"/>
<circle cx="466.48" cy="329.58" r="1.45" fill="#1a6faa"/>
<circle cx="483.59" cy="336.66" r="1.45" fill="#1a6faa"/>
<circle cx="476.09" cy="336.59" r="1.45" fill="#1a6faa"/>
<circle cx="476.26" cy="332.07" r="1.45" fill="#1a6faa"/>
<circle cx="464.94" cy="333.70" r="1.45" fill="#1a6faa"/>
<circle cx="478.80" cy="335.70" r="1.45" fill="#1a6faa"/>
<circle cx="481.23" cy="326.33" r="1.45" fill="#1a6faa"/>
<circle cx="467.34" cy="333.14" r="1.45" fill="#1a6faa"/>
<circle cx="466.82" cy="339.35" r="1.45" fill="#1a6faa"/>
<circle cx="471.31" cy="342.24" r="1.45" fill="#1a6faa"/>
<circle cx="464.88" cy="335.86" r="1.45" fill="#1a6faa"/>
<circle cx="480.00" cy="330.08" r="1.45" fill="#1a6faa"/>
<circle cx="477.60" cy="324.54" r="1.45" fill="#1a6faa"/>
<circle cx="474.84" cy="334.53" r="1.45" fill="#1a6faa"/>
<circle cx="477.36" cy="357.99" r="1.45" fill="#1a6faa"/>
<circle cx="471.67" cy="352.01" r="1.45" fill="#1a6faa"/>
<circle cx="476.63" cy="342.61" r="1.45" fill="#1a6faa"/>
<circle cx="478.67" cy="351.72" r="1.45" fill="#1a6faa"/>
<circle cx="479.82" cy="347.89" r="1.45" fill="#1a6faa"/>
<circle cx="474.23" cy="356.76" r="1.45" fill="#1a6faa"/>
<circle cx="475.83" cy="346.34" r="1.45" fill="#1a6faa"/>
<circle cx="474.01" cy="358.98" r="1.45" fill="#1a6faa"/>
<circle cx="479.13" cy="344.41" r="1.45" fill="#1a6faa"/>
<circle cx="470.82" cy="344.42" r="1.45" fill="#1a6faa"/>
<circle cx="472.69" cy="354.92" r="1.45" fill="#1a6faa"/>
<circle cx="475.31" cy="361.06" r="1.45" fill="#1a6faa"/>
<circle cx="481.58" cy="349.59" r="1.45" fill="#1a6faa"/>
<circle cx="477.16" cy="355.10" r="1.45" fill="#1a6faa"/>
<circle cx="473.45" cy="343.15" r="1.45" fill="#1a6faa"/>
<circle cx="470.09" cy="354.03" r="1.45" fill="#1a6faa"/>
<circle cx="470.24" cy="348.66" r="1.45" fill="#1a6faa"/>
<circle cx="470.22" cy="356.15" r="1.45" fill="#1a6faa"/>
<circle cx="473.33" cy="349.92" r="1.45" fill="#1a6faa"/>
<circle cx="482.51" cy="345.06" r="1.45" fill="#1a6faa"/>
<circle cx="468.90" cy="350.54" r="1.45" fill="#1a6faa"/>
<circle cx="467.68" cy="345.94" r="1.45" fill="#1a6faa"/>
<circle cx="473.58" cy="347.54" r="1.45" fill="#1a6faa"/>
<circle cx="480.00" cy="355.39" r="1.45" fill="#1a6faa"/>
<circle cx="467.16" cy="348.24" r="1.45" fill="#1a6faa"/>
<circle cx="474.57" cy="352.14" r="1.45" fill="#1a6faa"/>
<circle cx="468.66" cy="343.92" r="1.45" fill="#1a6faa"/>
<circle cx="476.41" cy="350.05" r="1.45" fill="#1a6faa"/>
<circle cx="481.05" cy="352.68" r="1.45" fill="#1a6faa"/>
<circle cx="477.40" cy="347.99" r="1.45" fill="#1a6faa"/>
<circle cx="474.78" cy="354.38" r="1.45" fill="#1a6faa"/>
<circle cx="471.50" cy="358.18" r="1.45" fill="#1a6faa"/>
<circle cx="469.72" cy="346.50" r="1.45" fill="#1a6faa"/>
<circle cx="482.68" cy="347.44" r="1.45" fill="#1a6faa"/>
<circle cx="472.79" cy="345.53" r="1.45" fill="#1a6faa"/>
<circle cx="476.74" cy="352.99" r="1.45" fill="#1a6faa"/>
<rect x="334.00" y="248.30" width="172.40" height="148.50" fill="none" stroke="#858585" stroke-width="1.0"/>
<line x1="331.50" y1="390.40" x2="339.00" y2="390.40" stroke="#333" stroke-width="0.9"/>
<text x="329.20" y="393.37" font-size="8.3" text-anchor="end" fill="#3a3a3a" stroke="#3a3a3a" stroke-width="0.12" font-family='"Liberation Sans", sans-serif'>1</text>
<line x1="331.50" y1="350.53" x2="339.00" y2="350.53" stroke="#333" stroke-width="0.9"/>
<text x="329.20" y="353.50" font-size="8.3" text-anchor="end" fill="#3a3a3a" stroke="#3a3a3a" stroke-width="0.12" font-family='"Liberation Sans", sans-serif'>10</text>
<line x1="331.50" y1="310.66" x2="339.00" y2="310.66" stroke="#333" stroke-width="0.9"/>
<text x="329.20" y="313.63" font-size="8.3" text-anchor="end" fill="#3a3a3a" stroke="#3a3a3a" stroke-width="0.12" font-family='"Liberation Sans", sans-serif'>100</text>
<line x1="331.50" y1="270.79" x2="339.00" y2="270.79" stroke="#333" stroke-width="0.9"/>
<text x="329.20" y="273.76" font-size="8.3" text-anchor="end" fill="#3a3a3a" stroke="#3a3a3a" stroke-width="0.12" font-family='"Liberation Sans", sans-serif'>1,000</text>
<line x1="334.00" y1="396.58" x2="335.80" y2="396.58" stroke="#333" stroke-width="0.8"/>
<line x1="334.00" y1="394.26" x2="335.80" y2="394.26" stroke="#333" stroke-width="0.8"/>
<line x1="334.00" y1="392.22" x2="335.80" y2="392.22" stroke="#333" stroke-width="0.8"/>
<line x1="334.00" y1="378.40" x2="335.80" y2="378.40" stroke="#333" stroke-width="0.8"/>
<line x1="334.00" y1="371.38" x2="335.80" y2="371.38" stroke="#333" stroke-width="0.8"/>
<line x1="334.00" y1="366.40" x2="335.80" y2="366.40" stroke="#333" stroke-width="0.8"/>
<line x1="334.00" y1="362.53" x2="335.80" y2="362.53" stroke="#333" stroke-width="0.8"/>
<line x1="334.00" y1="359.38" x2="335.80" y2="359.38" stroke="#333" stroke-width="0.8"/>
<line x1="334.00" y1="356.71" x2="335.80" y2="356.71" stroke="#333" stroke-width="0.8"/>
<line x1="334.00" y1="354.39" x2="335.80" y2="354.39" stroke="#333" stroke-width="0.8"/>
<line x1="334.00" y1="352.35" x2="335.80" y2="352.35" stroke="#333" stroke-width="0.8"/>
<line x1="334.00" y1="338.53" x2="335.80" y2="338.53" stroke="#333" stroke-width="0.8"/>
<line x1="334.00" y1="331.51" x2="335.80" y2="331.51" stroke="#333" stroke-width="0.8"/>
<line x1="334.00" y1="326.53" x2="335.80" y2="326.53" stroke="#333" stroke-width="0.8"/>
<line x1="334.00" y1="322.66" x2="335.80" y2="322.66" stroke="#333" stroke-width="0.8"/>
<line x1="334.00" y1="319.51" x2="335.80" y2="319.51" stroke="#333" stroke-width="0.8"/>
<line x1="334.00" y1="316.84" x2="335.80" y2="316.84" stroke="#333" stroke-width="0.8"/>
<line x1="334.00" y1="314.52" x2="335.80" y2="314.52" stroke="#333" stroke-width="0.8"/>
<line x1="334.00" y1="312.48" x2="335.80" y2="312.48" stroke="#333" stroke-width="0.8"/>
<line x1="334.00" y1="298.66" x2="335.80" y2="298.66" stroke="#333" stroke-width="0.8"/>
<line x1="334.00" y1="291.64" x2="335.80" y2="291.64" stroke="#333" stroke-width="0.8"/>
<line x1="334.00" y1="286.66" x2="335.80" y2="286.66" stroke="#333" stroke-width="0.8"/>
<line x1="334.00" y1="282.79" x2="335.80" y2="282.79" stroke="#333" stroke-width="0.8"/>
<line x1="334.00" y1="279.64" x2="335.80" y2="279.64" stroke="#333" stroke-width="0.8"/>
<line x1="334.00" y1="276.97" x2="335.80" y2="276.97" stroke="#333" stroke-width="0.8"/>
<line x1="334.00" y1="274.65" x2="335.80" y2="274.65" stroke="#333" stroke-width="0.8"/>
<line x1="334.00" y1="272.61" x2="335.80" y2="272.61" stroke="#333" stroke-width="0.8"/>
<line x1="334.00" y1="258.79" x2="335.80" y2="258.79" stroke="#333" stroke-width="0.8"/>
<line x1="334.00" y1="251.77" x2="335.80" y2="251.77" stroke="#333" stroke-width="0.8"/>
<line x1="381.00" y1="396.80" x2="381.00" y2="399.00" stroke="#555" stroke-width="0.8"/>
<line x1="460.50" y1="396.80" x2="460.50" y2="399.00" stroke="#555" stroke-width="0.8"/>
<text x="381.30" y="408.48" font-size="8.6" text-anchor="middle" fill="#3a3a3a" stroke="#3a3a3a" stroke-width="0.12" font-style="italic" font-family='"Liberation Sans", sans-serif'>BRCA1</text>
<text x="460.30" y="408.48" font-size="8.6" text-anchor="middle" fill="#3a3a3a" stroke="#3a3a3a" stroke-width="0.12" font-style="italic" font-family='"Liberation Sans", sans-serif'>BRCA2</text>
<text x="419.70" y="420.68" font-size="8.6" text-anchor="middle" fill="#222" stroke="#222" stroke-width="0.12" font-family='"Liberation Sans", sans-serif'>Gene</text>
<text x="302.20" y="323.00" font-size="8.6" text-anchor="middle" fill="#222" stroke="#222" stroke-width="0.12" transform="rotate(-90 302.2 323.0)" font-family='"Liberation Sans", sans-serif'>Reversion mutation deletion length</text>
<path d="M360.8 246.2 L360.8 244.8 L401.8 244.8 L401.8 246.2 M381.3 244.8 L381.3 243.2" fill="none" stroke="#222" stroke-width="1.1"/>
<text x="381.60" y="238.94" font-size="8.2" text-anchor="middle" fill="#222" stroke="#222" stroke-width="0.12" font-family='"Liberation Sans", sans-serif'>n.s.</text>
<path d="M439.2 246.2 L439.2 244.4 L480.1 244.4 L480.1 246.2 M460.0 244.4 L460.0 242.8" fill="none" stroke="#222" stroke-width="1.1"/>
<text x="460.00" y="239.08" font-size="8.6" text-anchor="middle" fill="#222" stroke="#222" stroke-width="0.12" font-family='"Liberation Sans", sans-serif'><tspan font-style="italic">P</tspan> = 0.0105</text>
<text x="347.60" y="436.48" font-size="8.6" text-anchor="start" fill="#222" stroke="#222" stroke-width="0.12" font-family='"Liberation Sans", sans-serif'>Microhomology present</text>
<rect x="442.60" y="430.60" width="7.20" height="5.80" fill="none" stroke="#d46252" stroke-width="0.8" stroke-opacity="0.8"/>
<line x1="442.60" y1="433.50" x2="449.80" y2="433.50" stroke="#d46252" stroke-width="1.1"/>
<line x1="446.20" y1="429.40" x2="446.20" y2="430.60" stroke="#d46252" stroke-width="0.8"/>
<line x1="446.20" y1="436.40" x2="446.20" y2="437.60" stroke="#d46252" stroke-width="0.8"/>
<circle cx="446.20" cy="433.5" r="1.2" fill="#d46252"/>
<text x="453.00" y="436.48" font-size="8.6" text-anchor="start" fill="#222" stroke="#222" stroke-width="0.12" font-family='"Liberation Sans", sans-serif'>No</text>
<rect x="474.00" y="430.60" width="7.20" height="5.80" fill="none" stroke="#3587c4" stroke-width="0.8" stroke-opacity="0.8"/>
<line x1="474.00" y1="433.50" x2="481.20" y2="433.50" stroke="#3587c4" stroke-width="1.1"/>
<line x1="477.60" y1="429.40" x2="477.60" y2="430.60" stroke="#3587c4" stroke-width="0.8"/>
<line x1="477.60" y1="436.40" x2="477.60" y2="437.60" stroke="#3587c4" stroke-width="0.8"/>
<circle cx="477.60" cy="433.5" r="1.2" fill="#3587c4"/>
<text x="485.40" y="436.48" font-size="8.6" text-anchor="start" fill="#222" stroke="#222" stroke-width="0.12" font-family='"Liberation Sans", sans-serif'>Yes</text>
<text x="177.20" y="414.38" font-size="8.6" text-anchor="middle" fill="#222" stroke="#222" stroke-width="0.12" font-family='"Liberation Sans", sans-serif'>Deletions only</text>
<text x="103.50" y="427.88" font-size="8.6" text-anchor="middle" fill="#222" stroke="#222" stroke-width="0.12" font-style="italic" font-family='"Liberation Sans", sans-serif'>BRCA1</text>
<text x="245.50" y="427.58" font-size="8.6" text-anchor="middle" fill="#222" stroke="#222" stroke-width="0.12" font-style="italic" font-family='"Liberation Sans", sans-serif'>BRCA2</text>
<rect x="38.10" y="439.74" width="18.68" height="106.56" fill="#e8472f" stroke="#6a1e12" stroke-width="0.9"/>
<rect x="56.78" y="453.82" width="18.68" height="92.48" fill="#e8472f" stroke="#6a1e12" stroke-width="0.9"/>
<rect x="75.46" y="496.38" width="18.68" height="49.92" fill="#e8472f" stroke="#6a1e12" stroke-width="0.9"/>
<rect x="94.14" y="524.86" width="18.68" height="21.44" fill="#e8472f" stroke="#6a1e12" stroke-width="0.9"/>
<rect x="112.82" y="517.82" width="18.68" height="28.48" fill="#e8472f" stroke="#6a1e12" stroke-width="0.9"/>
<line x1="131.50" y1="546.30" x2="150.18" y2="546.30" stroke="#6a1e12" stroke-width="0.9"/>
<rect x="150.18" y="524.86" width="18.68" height="21.44" fill="#e8472f" stroke="#6a1e12" stroke-width="0.9"/>
<rect x="186.20" y="435.90" width="18.68" height="110.40" fill="#49b6d6" stroke="#123a52" stroke-width="0.9"/>
<rect x="204.88" y="506.30" width="18.68" height="40.00" fill="#49b6d6" stroke="#123a52" stroke-width="0.9"/>
<rect x="223.56" y="474.62" width="18.68" height="71.68" fill="#49b6d6" stroke="#123a52" stroke-width="0.9"/>
<rect x="242.24" y="495.42" width="18.68" height="50.88" fill="#49b6d6" stroke="#123a52" stroke-width="0.9"/>
<rect x="260.92" y="515.90" width="18.68" height="30.40" fill="#49b6d6" stroke="#123a52" stroke-width="0.9"/>
<rect x="279.60" y="539.58" width="18.68" height="6.72" fill="#49b6d6" stroke="#123a52" stroke-width="0.9"/>
<rect x="298.28" y="535.74" width="18.68" height="10.56" fill="#49b6d6" stroke="#123a52" stroke-width="0.9"/>
<line x1="31.60" y1="430.60" x2="31.60" y2="552.00" stroke="#333" stroke-width="1.0"/>
<line x1="31.10" y1="551.50" x2="175.40" y2="551.50" stroke="#333" stroke-width="1.0"/>
<line x1="179.00" y1="551.50" x2="318.50" y2="551.50" stroke="#333" stroke-width="1.0"/>
<line x1="29.20" y1="546.30" x2="31.60" y2="546.30" stroke="#333" stroke-width="0.9"/>
<text x="26.30" y="549.34" font-size="8.5" text-anchor="end" fill="#3a3a3a" stroke="#3a3a3a" stroke-width="0.12" font-family='"Liberation Sans", sans-serif'>0.0</text>
<line x1="29.20" y1="514.30" x2="31.60" y2="514.30" stroke="#333" stroke-width="0.9"/>
<text x="26.30" y="517.34" font-size="8.5" text-anchor="end" fill="#3a3a3a" stroke="#3a3a3a" stroke-width="0.12" font-family='"Liberation Sans", sans-serif'>0.1</text>
<line x1="29.20" y1="482.30" x2="31.60" y2="482.30" stroke="#333" stroke-width="0.9"/>
<text x="26.30" y="485.34" font-size="8.5" text-anchor="end" fill="#3a3a3a" stroke="#3a3a3a" stroke-width="0.12" font-family='"Liberation Sans", sans-serif'>0.2</text>
<line x1="29.20" y1="450.30" x2="31.60" y2="450.30" stroke="#333" stroke-width="0.9"/>
<text x="26.30" y="453.34" font-size="8.5" text-anchor="end" fill="#3a3a3a" stroke="#3a3a3a" stroke-width="0.12" font-family='"Liberation Sans", sans-serif'>0.3</text>
<line x1="47.44" y1="551.50" x2="47.44" y2="553.80" stroke="#333" stroke-width="0.9"/>
<text x="47.44" y="563.44" font-size="8.5" text-anchor="middle" fill="#3a3a3a" stroke="#3a3a3a" stroke-width="0.12" font-family='"Liberation Sans", sans-serif'>0</text>
<line x1="195.54" y1="551.50" x2="195.54" y2="553.80" stroke="#333" stroke-width="0.9"/>
<text x="195.54" y="563.44" font-size="8.5" text-anchor="middle" fill="#3a3a3a" stroke="#3a3a3a" stroke-width="0.12" font-family='"Liberation Sans", sans-serif'>0</text>
<line x1="84.80" y1="551.50" x2="84.80" y2="553.80" stroke="#333" stroke-width="0.9"/>
<text x="84.80" y="563.44" font-size="8.5" text-anchor="middle" fill="#3a3a3a" stroke="#3a3a3a" stroke-width="0.12" font-family='"Liberation Sans", sans-serif'>2</text>
<line x1="232.90" y1="551.50" x2="232.90" y2="553.80" stroke="#333" stroke-width="0.9"/>
<text x="232.90" y="563.44" font-size="8.5" text-anchor="middle" fill="#3a3a3a" stroke="#3a3a3a" stroke-width="0.12" font-family='"Liberation Sans", sans-serif'>2</text>
<line x1="122.16" y1="551.50" x2="122.16" y2="553.80" stroke="#333" stroke-width="0.9"/>
<text x="122.16" y="563.44" font-size="8.5" text-anchor="middle" fill="#3a3a3a" stroke="#3a3a3a" stroke-width="0.12" font-family='"Liberation Sans", sans-serif'>4</text>
<line x1="270.26" y1="551.50" x2="270.26" y2="553.80" stroke="#333" stroke-width="0.9"/>
<text x="270.26" y="563.44" font-size="8.5" text-anchor="middle" fill="#3a3a3a" stroke="#3a3a3a" stroke-width="0.12" font-family='"Liberation Sans", sans-serif'>4</text>
<line x1="159.52" y1="551.50" x2="159.52" y2="553.80" stroke="#333" stroke-width="0.9"/>
<text x="159.52" y="563.44" font-size="8.5" text-anchor="middle" fill="#3a3a3a" stroke="#3a3a3a" stroke-width="0.12" font-family='"Liberation Sans", sans-serif'>6</text>
<line x1="307.62" y1="551.50" x2="307.62" y2="553.80" stroke="#333" stroke-width="0.9"/>
<text x="307.62" y="563.44" font-size="8.5" text-anchor="middle" fill="#3a3a3a" stroke="#3a3a3a" stroke-width="0.12" font-family='"Liberation Sans", sans-serif'>6</text>
<text x="177.30" y="575.38" font-size="8.6" text-anchor="middle" fill="#222" stroke="#222" stroke-width="0.12" font-family='"Liberation Sans", sans-serif'>Microhomology length (bp)</text>
<text x="7.80" y="490.50" font-size="8.7" text-anchor="middle" fill="#222" stroke="#222" stroke-width="0.12" transform="rotate(-90 7.8 490.5)" font-family='"Liberation Sans", sans-serif'>Reversion mutation frequency</text></svg>
</body></html>
